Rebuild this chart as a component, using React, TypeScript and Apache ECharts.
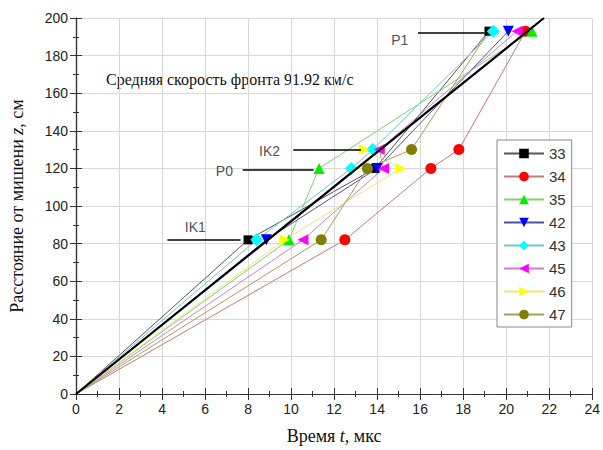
import React, { useEffect, useRef } from "react";
import * as echarts from "echarts";

const seriesNames = ["33", "34", "35", "42", "43", "45", "46", "47"];
const s33 = [[0, 0], [8.0, 82], [13.9, 120], [19.2, 193]];
const s34 = [[0, 0], [12.5, 82], [16.5, 120], [17.8, 130], [20.9, 193]];
const s35 = [[0, 0], [9.9, 82], [11.3, 120], [21.2, 193]];
const s42 = [[0, 0], [8.85, 82], [14.0, 120], [20.1, 193]];
const s43 = [[0, 0], [8.4, 82], [12.8, 120], [13.8, 130], [19.4, 193]];
const s45 = [[0, 0], [10.55, 82], [14.3, 120], [14.1, 130], [20.5, 193]];
const s46 = [[0, 0], [9.7, 82], [15.1, 120], [13.4, 130]];
const s47 = [[0, 0], [11.4, 82], [13.55, 120], [15.6, 130], [19.2, 193]];
// points drawn without a marker (line passes through them only)
const hiddenMarkers = [[0, 0], [19.2, 193, 7]];
const seriesData = [s33, s34, s35, s42, s43, s45, s46, s47];
const colors = ["#000000", "#ff0000", "#00ee00", "#0000ff", "#00ffff", "#ff00ff", "#ffff00", "#808000"];
const lineColors = ["#555555", "#c87878", "#80d070", "#5050a0", "#70c8c8", "#d080d0", "#e8e870", "#a0a060"];
const symbols = ["rect", "circle", "triangle", "triangle", "diamond", "triangle", "triangle", "circle"];
const rotations = [0, 0, 0, 180, 0, 90, -90, 0];

const velocity = 9.192; // cm/us = 91.92 km/s
const fitLine = [[0, 0], [200 / velocity, 200]];

const annotations = [
  { name: "P1", pos: [15.05, 188.5], from: [15.9, 192], to: [19.0, 192] },
  { name: "IK2", pos: [9.0, 129.5], from: [10.1, 130], to: [13.25, 130] },
  { name: "P0", pos: [6.9, 118.5], from: [7.75, 119.5], to: [11.05, 119.5] },
  { name: "IK1", pos: [5.55, 89], from: [4.25, 82], to: [7.65, 82] },
];

const xTicks = { min: 0, max: 24, interval: 2 };
const yTicks = { min: 0, max: 200, interval: 20 };

export default function App() {
  const ref = useRef<HTMLDivElement>(null);
  useEffect(() => {
    if (!ref.current) return;
    const chart = echarts.init(ref.current, null, { renderer: "svg" });
    const tickLabel = { fontFamily: "Liberation Sans", fontSize: 14, color: "#222" };
    const isHidden = (p: number[], i: number) =>
      (p[0] === 0 && p[1] === 0) ||
      hiddenMarkers.some((h) => h.length === 3 && h[0] === p[0] && h[1] === p[1] && h[2] === i);
    const series: any[] = seriesNames.map((n, i) => ({
      name: n,
      type: "line",
      data: seriesData[i].map((p) =>
        isHidden(p, i) ? { value: p, symbol: "none" } : { value: p }
      ),
      symbol: symbols[i],
      symbolRotate: rotations[i],
      symbolSize: symbols[i] === "rect" ? 9 : symbols[i] === "diamond" ? 13 : 11,
      itemStyle: { color: colors[i] },
      lineStyle: { color: lineColors[i], width: 1 },
      z: 3,
    }));
    series.push({
      name: "fit",
      type: "line",
      data: fitLine,
      symbol: "none",
      lineStyle: { color: "#000", width: 2.2 },
      z: 4,
      markLine: {
        silent: true,
        symbol: ["none", "arrow"],
        symbolSize: [0, 10],
        lineStyle: { color: "#000", width: 1.6, type: "solid" },
        label: { show: false },
        data: annotations.map((a) => [{ coord: a.from }, { coord: a.to }]),
      },
    });
    series.push({
      name: "ann",
      type: "scatter",
      data: annotations.map((a) => ({ value: a.pos, name: a.name })),
      symbolSize: 0,
      silent: true,
      label: {
        show: true,
        position: "inside",
        formatter: (p: any) => p.name,
        fontFamily: "Liberation Sans",
        fontSize: 14,
        color: "#222",
      },
    });
    chart.setOption({
      animation: false,
      backgroundColor: "#fff",
      grid: { left: 75, right: 8, top: 18, bottom: 55 },
      legend: {
        data: seriesNames,
        orient: "vertical",
        left: 497,
        top: 140,
        itemWidth: 40,
        itemHeight: 12,
        itemGap: 8,
        padding: [6, 6, 5, 6],
        borderColor: "#888",
        borderWidth: 1,
        backgroundColor: "#fff",
        textStyle: { fontFamily: "Liberation Sans", fontSize: 15, color: "#333" },
      },
      graphic: [
        {
          type: "text",
          left: 106,
          top: 71,
          style: {
            text: "Средняя скорость фронта 91.92 км/с",
            font: "16px 'Liberation Serif'",
            fill: "#111",
          },
        },
      ],
      xAxis: [
        {
          type: "value",
          ...xTicks,
          name: "{n|Время }{i|t}{n|, мкс}",
          nameLocation: "middle",
          nameGap: 33,
          nameTextStyle: {
            rich: {
              n: { fontFamily: "Liberation Serif", fontSize: 18, color: "#111" },
              i: { fontFamily: "Liberation Serif", fontSize: 18, fontStyle: "italic", color: "#111" },
            },
          },
          axisLine: { lineStyle: { color: "#333", width: 1.2 } },
          axisTick: { inside: true, length: 6, lineStyle: { color: "#333" } },
          minorTick: { show: true, splitNumber: 2, length: 3, lineStyle: { color: "#333" } },
          axisLabel: { ...tickLabel, margin: 8 },
          splitLine: { show: true, lineStyle: { color: "#d8d8d8", width: 1 } },
        },
        {
          type: "value",
          position: "top",
          ...xTicks,
          axisLine: { lineStyle: { color: "#333", width: 1.2 } },
          axisTick: { inside: true, length: 6, lineStyle: { color: "#333" } },
          minorTick: { show: true, splitNumber: 2, length: 3, lineStyle: { color: "#333" } },
          axisLabel: { show: false },
          splitLine: { show: false },
        },
      ],
      yAxis: [
        {
          type: "value",
          ...yTicks,
          name: "{n|Расстояние от мишени }{i|z}{n|, см}",
          nameLocation: "middle",
          nameGap: 50,
          nameRotate: 90,
          nameTextStyle: {
            rich: {
              n: { fontFamily: "Liberation Serif", fontSize: 18, color: "#111" },
              i: { fontFamily: "Liberation Serif", fontSize: 18, fontStyle: "italic", color: "#111" },
            },
          },
          axisLine: { show: true, lineStyle: { color: "#333", width: 1.2 } },
          axisTick: { show: true, inside: true, length: 6, lineStyle: { color: "#333" } },
          minorTick: { show: true, splitNumber: 2, length: 3, lineStyle: { color: "#333" } },
          axisLabel: { ...tickLabel, margin: 8 },
          splitLine: { show: true, lineStyle: { color: "#d8d8d8", width: 1 } },
        },
        {
          type: "value",
          position: "right",
          ...yTicks,
          axisLine: { show: true, lineStyle: { color: "#333", width: 1.2 } },
          axisTick: { show: true, inside: true, length: 6, lineStyle: { color: "#333" } },
          minorTick: { show: true, splitNumber: 2, length: 3, lineStyle: { color: "#333" } },
          axisLabel: { show: false },
          splitLine: { show: false },
        },
      ],
      series,
    });
    return () => chart.dispose();
  }, []);
  return (
    <div
      ref={ref}
      style={{ position: "absolute", left: 0, top: 0, width: 603, height: 450 }}
    />
  );
}
